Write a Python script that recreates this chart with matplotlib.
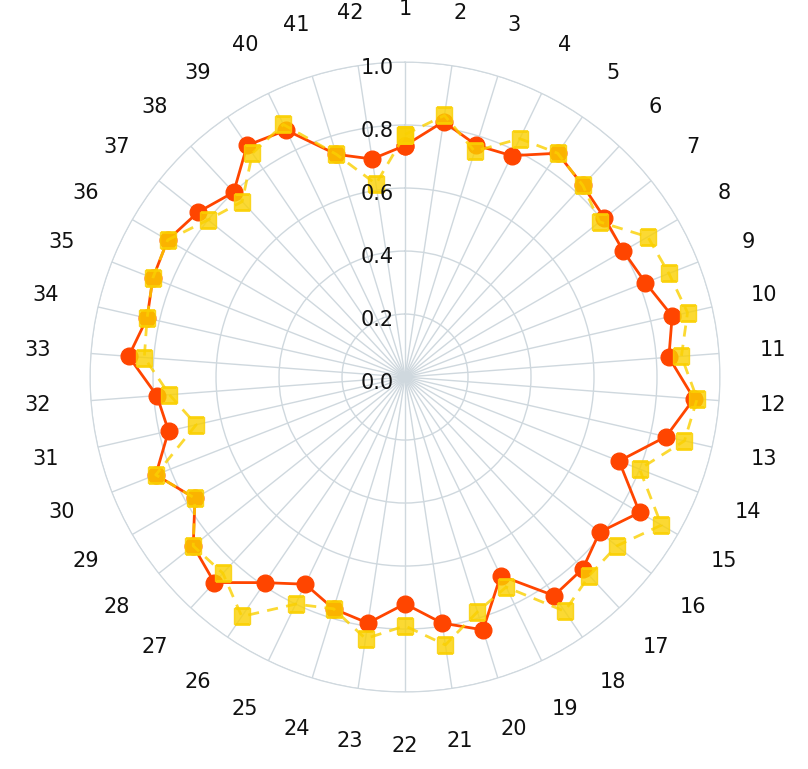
import numpy as np
import matplotlib
matplotlib.use("Agg")
import matplotlib.pyplot as plt
from matplotlib.transforms import offset_copy

categories = [str(i) for i in range(1, 43)]
series_circle = [0.735, 0.82, 0.77, 0.78, 0.86, 0.83, 0.81, 0.80, 0.82, 0.87,
                 0.84, 0.92, 0.85, 0.73, 0.86, 0.79, 0.83, 0.84, 0.70, 0.84,
                 0.79, 0.72, 0.79, 0.77, 0.73, 0.79, 0.89, 0.86, 0.77, 0.85,
                 0.77, 0.79, 0.88, 0.84, 0.86, 0.87, 0.84, 0.80, 0.89, 0.87,
                 0.74, 0.70]
series_square = [0.77, 0.84, 0.75, 0.84, 0.86, 0.83, 0.79, 0.89, 0.90, 0.92,
                 0.88, 0.93, 0.91, 0.80, 0.94, 0.86, 0.86, 0.90, 0.74, 0.78,
                 0.86, 0.79, 0.84, 0.77, 0.80, 0.92, 0.85, 0.86, 0.77, 0.85,
                 0.68, 0.75, 0.83, 0.84, 0.86, 0.87, 0.80, 0.76, 0.86, 0.89,
                 0.74, 0.62]
radial_ticks = [0.0, 0.2, 0.4, 0.6, 0.8, 1.0]

grid_color = "#CFD8DE"

fig = plt.figure(figsize=(8.08, 7.69), dpi=100)
ax = fig.add_axes([0.1114, 0.1001, 0.7797, 0.8192], projection="polar")
ax.set_theta_zero_location("N")
ax.set_theta_direction(-1)

theta = np.arange(len(categories)) * 2 * np.pi / len(categories)
theta_closed = np.append(theta, theta[0])

ax.plot(theta_closed, series_circle + series_circle[:1], color="#FF4500", linewidth=2,
        marker="o", markersize=12, zorder=3)
ax.plot(theta_closed, series_square + series_square[:1], color="#FAD000", linewidth=2,
        linestyle=(0, (4, 3)), marker="s", markersize=12, alpha=0.8, zorder=4)

ax.set_ylim(0, 1)
ax.set_rlabel_position(0)
ax.set_xticks(theta)
ax.set_xticklabels([])
ax.set_yticks(radial_ticks)
ax.set_yticklabels([])
ax.grid(True, color=grid_color, linewidth=1)
ax.spines["polar"].set_color(grid_color)
ax.tick_params(axis="y", length=0)

for t, lab in zip(theta, categories):
    ax.text(t, 1.17, lab, ha="center", va="center", fontsize=15,
            family="DejaVu Sans", color="#111111", clip_on=False)

shifted = offset_copy(ax.transData, fig=fig, x=-11, y=-6, units="dots")
for r in radial_ticks:
    ax.text(0, r, f"{r:.1f}", transform=shifted, ha="right", va="center",
            fontsize=15, family="DejaVu Sans", color="#111111", zorder=5)

fig.savefig("out.png", dpi=100)
